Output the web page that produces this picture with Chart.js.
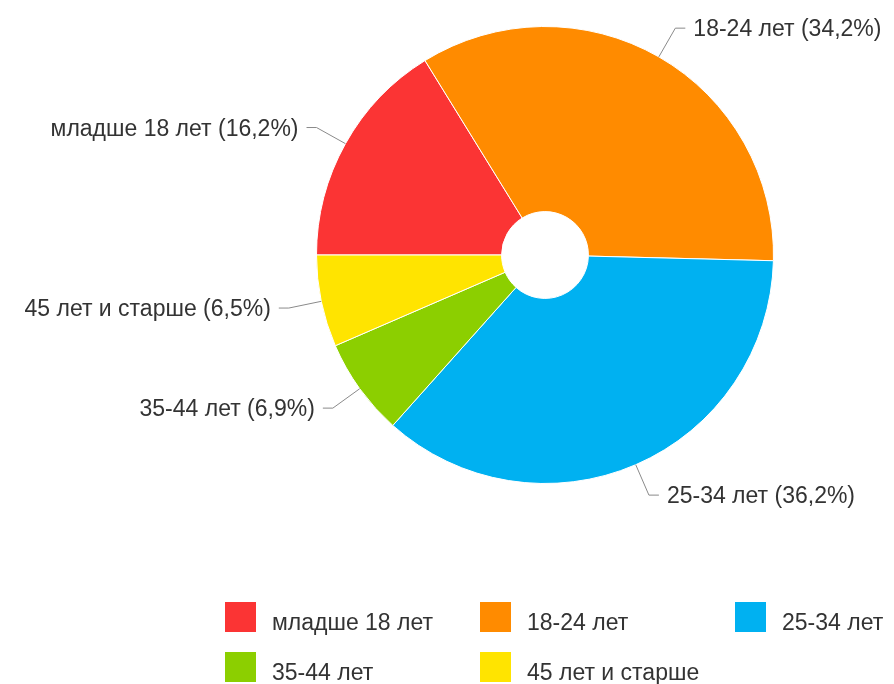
<!DOCTYPE html>
<html>
<head>
<meta charset="utf-8">
<script src="https://cdn.jsdelivr.net/npm/chart.js@4/dist/chart.umd.min.js"></script>
<style>
  html, body { margin: 0; padding: 0; background: #fff; }
  #wrap { width: 894px; height: 684px; position: relative; }
</style>
</head>
<body>
<div id="wrap"><canvas id="chartAge"></canvas></div>
<script>
const categories = ["младше 18 лет", "18-24 лет", "25-34 лет", "35-44 лет", "45 лет и старше"];
const shares = [16.2, 34.2, 36.2, 6.9, 6.5];
const colors = ["#fb3434", "#ff8b00", "#00b1f1", "#8ccf00", "#ffe400"];

const FONT = "23px 'Liberation Sans', Arial, sans-serif";
const TEXT_COLOR = "#333333";

const fmt = (v) => v.toFixed(1).replace(".", ",") + "%";

// labels outside the pie with elbow leader lines
const outsideLabels = {
  id: "outsideLabels",
  afterDatasetsDraw(chart) {
    const ctx = chart.ctx;
    const arcs = chart.getDatasetMeta(0).data;
    ctx.save();
    ctx.font = FONT;
    ctx.textBaseline = "middle";
    arcs.forEach((arc, i) => {
      const { x, y, startAngle, endAngle, outerRadius } = arc.getProps(
        ["x", "y", "startAngle", "endAngle", "outerRadius"], true);
      const mid = (startAngle + endAngle) / 2;
      const cos = Math.cos(mid);
      const sin = Math.sin(mid);
      const px = x + cos * outerRadius;
      const py = y + sin * outerRadius;
      const ex = x + cos * outerRadius * 1.145;
      const ey = y + sin * outerRadius * 1.145;
      const dir = cos >= 0 ? 1 : -1;
      const hx = ex + dir * 10;

      ctx.strokeStyle = "#8a8a8a";
      ctx.lineWidth = 1;
      ctx.beginPath();
      ctx.moveTo(px, py);
      ctx.lineTo(ex, ey);
      ctx.lineTo(hx, ey);
      ctx.stroke();

      ctx.fillStyle = TEXT_COLOR;
      ctx.textAlign = dir > 0 ? "left" : "right";
      ctx.fillText(`${categories[i]} (${fmt(shares[i])})`, hx + dir * 8, ey + 2);
    });
    ctx.restore();
  },
};

// legend drawn as a 3-column grid under the pie
const gridLegend = {
  id: "gridLegend",
  afterDraw(chart) {
    const ctx = chart.ctx;
    const colX = [225, 480, 735];
    const rowY = [602, 652];
    ctx.save();
    ctx.font = FONT;
    ctx.textBaseline = "middle";
    ctx.textAlign = "left";
    categories.forEach((name, i) => {
      const bx = colX[i % 3];
      const by = rowY[Math.floor(i / 3)];
      ctx.fillStyle = colors[i];
      ctx.fillRect(bx, by, 31, 30);
      ctx.fillStyle = TEXT_COLOR;
      ctx.fillText(name, bx + 47, by + 22);
    });
    ctx.restore();
  },
};

const chartAge = new Chart(document.querySelector("#chartAge"), {
  type: "doughnut",
  data: {
    labels: categories,
    datasets: [
      {
        data: shares,
        backgroundColor: colors,
        borderColor: "#ffffff",
        borderWidth: 1,
      },
    ],
  },
  options: {
    responsive: true,
    maintainAspectRatio: false,
    animation: false,
    rotation: 270,
    cutout: "19%",
    layout: {
      padding: { left: 316, right: 120, top: 26, bottom: 200 },
    },
    plugins: {
      legend: { display: false },
      tooltip: { enabled: false },
    },
  },
  plugins: [outsideLabels, gridLegend],
});
</script>
</body>
</html>
